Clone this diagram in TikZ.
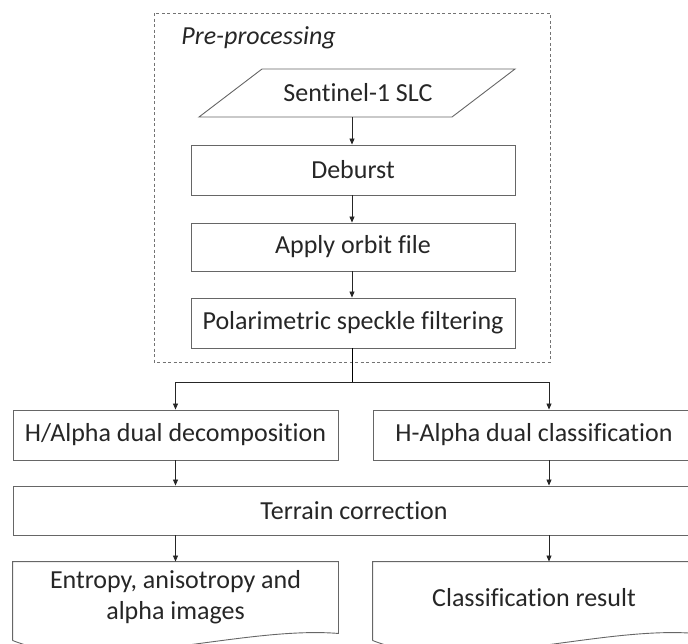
\documentclass[tikz,border=0pt]{standalone}
\usepackage{fontspec}
\setmainfont{Carlito}[Ligatures=NoCommon]
\usetikzlibrary{arrows.meta}

\tikzset{
    box/.style={draw=black!60, line width=0.9pt, minimum height=50pt, inner sep=0pt,
        text=black!85, font=\fontsize{26}{31}\selectfont},
    docbox/.style={box, draw=none, minimum height=71pt, align=center},
    arr/.style={-{Triangle[length=6pt,width=5pt]}, line width=0.8pt, draw=black!85},
    frame/.style={draw=black!55, line width=0.9pt, dash pattern=on 3pt off 2.5pt},
}

% outline of a document symbol round a docbox node
\newcommand\docpath[1]{%
    \draw[box] ([yshift=-7pt]#1.south west) -- (#1.north west) -- (#1.north east)
        -- (#1.south east) .. controls +(-98,-8) and +(87,35) .. ([yshift=-7pt]#1.south west);}

\begin{document}
\begin{tikzpicture}[x=1pt, y=-1pt]
    \clip (0,0) rectangle (688,643);
    \useasboundingbox (0,0) rectangle (688,643);

    % Pre-processing frame
    \draw[frame] (154,13) rectangle (550,362);
    \node[box, draw=none, anchor=west] (pre) at (181,38) {\itshape Pre-processing};

    % input parallelogram
    \draw[box] (199,117) -- (262,69) -- (515,69) -- (452,117) -- cycle;
    \node[box, draw=none] (slc) at (358,93) {Sentinel-1 SLC};
    \coordinate (slcb) at (352,117);

    % pre-processing steps
    \node[box, minimum width=324pt] (deb) at (353,170) {Deburst};
    \node[box, minimum width=324pt, minimum height=48pt] (orb) at (353,247) {Apply orbit file};
    \node[box, minimum width=324pt] (pol) at (353,323) {Polarimetric speckle filtering};

    % two branches
    \node[box, minimum width=325pt] (hd) at (175.5,435) {H/Alpha dual decomposition};
    \node[box, minimum width=322pt] (hc) at (534,435) {H-Alpha dual classification};
    \node[box, minimum width=682pt, minimum height=49pt] (tc) at (354,510.5) {Terrain correction};

    % outputs
    \node[docbox, minimum width=325pt] (ent) at (175.5,597.5) {Entropy, anisotropy and\\alpha images};
    \node[docbox, minimum width=322pt] (res) at (534,597.5) {Classification result};
    \docpath{ent}
    \docpath{res}

    % arrows
    \coordinate (rc) at (549,0);
    \draw[arr] (slcb) -- (slcb |- deb.north);
    \draw[arr] (deb.south -| slcb) -- (orb.north -| slcb);
    \draw[arr] (orb.south -| slcb) -- (pol.north -| slcb);
    \draw (pol.south -| slcb) -- ++(0,34) coordinate (split);
    \draw[arr] (split) -| (hd.north);
    \draw[arr] (split) -| (rc |- hc.north);
    \draw[arr] (hd.south) -- (hd.south |- tc.north);
    \draw[arr] (rc |- hc.south) -- (rc |- tc.north);
    \draw[arr] (tc.south -| ent.north) -- (ent.north);
    \draw[arr] (rc |- tc.south) -- (rc |- res.north);
\end{tikzpicture}
\end{document}
